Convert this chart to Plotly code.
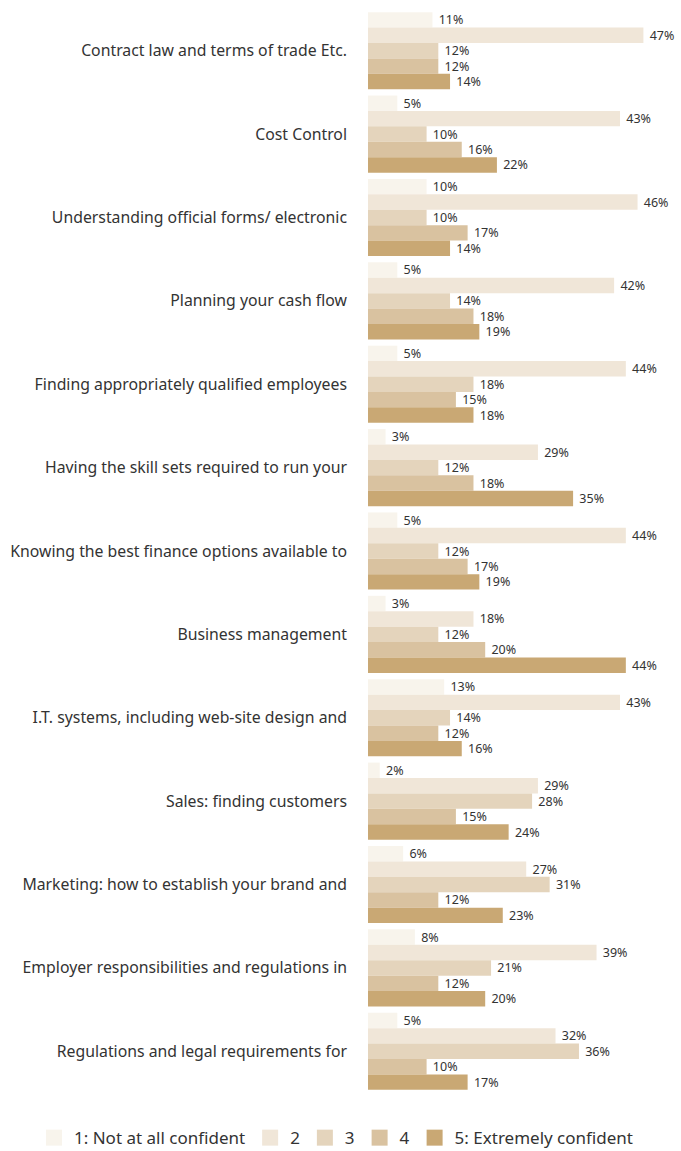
import plotly.graph_objects as go

categories = [
    "Contract law and terms of trade Etc.",
    "Cost Control",
    "Understanding official forms/ electronic",
    "Planning your cash flow",
    "Finding appropriately qualified employees",
    "Having the skill sets required to run your",
    "Knowing the best finance options available to",
    "Business management",
    "I.T. systems, including web-site design and",
    "Sales: finding customers",
    "Marketing: how to establish your brand and",
    "Employer responsibilities and regulations in",
    "Regulations and legal requirements for",
]

series_names = ["1: Not at all confident", "2", "3", "4", "5: Extremely confident"]

level_1 = [11, 5, 10, 5, 5, 3, 5, 3, 13, 2, 6, 8, 5]
level_2 = [47, 43, 46, 42, 44, 29, 44, 18, 43, 29, 27, 39, 32]
level_3 = [12, 10, 10, 14, 18, 12, 12, 12, 14, 28, 31, 21, 36]
level_4 = [12, 16, 17, 18, 15, 18, 17, 20, 12, 15, 12, 12, 10]
level_5 = [14, 22, 14, 19, 18, 35, 19, 44, 16, 24, 23, 20, 17]

series_values = [level_1, level_2, level_3, level_4, level_5]
colors = ["#F8F4EC", "#F0E6D8", "#E4D4BC", "#D9C2A0", "#C9A874"]

TEXT_COLOR = "#333333"
FONT = "Noto Sans"

fig = go.Figure()
for name, vals, col in zip(series_names, series_values, colors):
    fig.add_trace(go.Bar(
        y=categories,
        x=vals,
        name=name,
        orientation="h",
        marker=dict(color=col, line=dict(width=0)),
        text=[f" {v}%" for v in vals],
        textposition="outside",
        constraintext="none",
        textfont=dict(size=12.5, color=TEXT_COLOR, family=FONT),
        cliponaxis=False,
        hoverinfo="skip",
        showlegend=False,
    ))

# legend-only entries with larger square swatches
for name, col in zip(series_names, colors):
    fig.add_trace(go.Scatter(
        x=[None], y=[None],
        mode="markers",
        name=name,
        marker=dict(symbol="square", size=20, color=col),
        hoverinfo="skip",
        showlegend=True,
    ))

fig.update_layout(
    width=681,
    height=1151,
    barmode="group",
    bargap=0.075,
    bargroupgap=0,
    plot_bgcolor="white",
    paper_bgcolor="white",
    margin=dict(l=368, r=20, t=9, b=58, autoexpand=False),
    font=dict(family=FONT, color=TEXT_COLOR),
    xaxis=dict(
        range=[0, 50],
        showgrid=False,
        showticklabels=False,
        zeroline=False,
        showline=False,
        ticks="",
    ),
    yaxis=dict(
        autorange="reversed",
        showgrid=False,
        zeroline=False,
        showline=False,
        ticks="",
        ticklabelstandoff=20,
        tickfont=dict(size=15.8, color=TEXT_COLOR, family=FONT),
    ),
    legend=dict(
        orientation="h",
        xref="paper",
        yref="paper",
        x=-1.14,
        xanchor="left",
        y=-0.025,
        yanchor="top",
        font=dict(size=17, color=TEXT_COLOR, family=FONT),
        traceorder="normal",
        itemwidth=30,
        itemsizing="trace",
    ),
    showlegend=True,
)

fig.write_html("out.html")
